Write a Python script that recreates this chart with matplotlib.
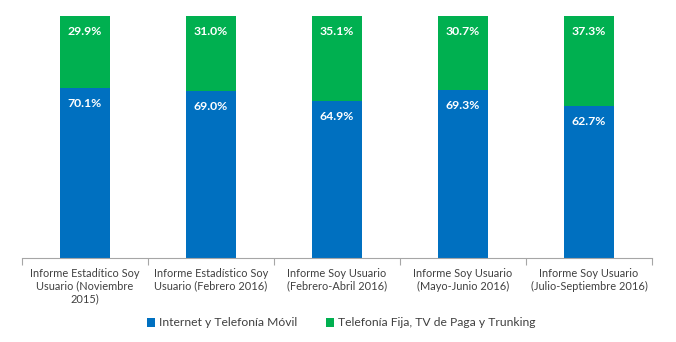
import matplotlib
matplotlib.use("Agg")
import matplotlib.pyplot as plt
import numpy as np

categories = [
    "Informe Estadítico Soy\nUsuario (Noviembre\n2015)",
    "Informe Estadístico Soy\nUsuario (Febrero 2016)",
    "Informe Soy Usuario\n(Febrero-Abril 2016)",
    "Informe Soy Usuario\n(Mayo-Junio 2016)",
    "Informe Soy Usuario\n(Julio-Septiembre 2016)",
]
movil = [70.1, 69.0, 64.9, 69.3, 62.7]
fija = [29.9, 31.0, 35.1, 30.7, 37.3]
series_names = ["Internet y Telefonía Móvil", "Telefonía Fija, TV de Paga y Trunking"]
blue = "#0070C0"
green = "#00B050"

plt.rcParams['font.family'] = ['Lato', 'DejaVu Sans']

fig = plt.figure(figsize=(6.76, 3.42), dpi=100)
ax = fig.add_axes([22/676, 1-258/342, 630/676, 242/342])

x = np.arange(len(categories))
w = 0.4
b1 = ax.bar(x, movil, w, color=blue, label=series_names[0])
b2 = ax.bar(x, fija, w, bottom=movil, color=green, label=series_names[1])

for xi, m, f in zip(x, movil, fija):
    ax.text(xi, m - 6.3, f"{m:.1f}%", ha='center', va='center', color='white',
            fontsize=8.8, fontweight='bold')
    ax.text(xi, 100 - 6.3, f"{f:.1f}%", ha='center', va='center', color='white',
            fontsize=8.8, fontweight='bold')

ax.set_xlim(-0.5, len(categories) - 0.5)
ax.set_ylim(0, 100)
ax.set_yticks([])
for s in ['top', 'right', 'left']:
    ax.spines[s].set_visible(False)
ax.spines['bottom'].set_color('#A6A6A6')
ax.set_xticks(np.arange(-0.5, len(categories)), minor=False)
ax.set_xticklabels([])
ax.tick_params(axis='x', which='major', length=5, color='#A6A6A6', direction='out')
ax.set_xticks(x, minor=True)
ax.set_xticklabels(categories, minor=True, fontsize=7.9, color='#404040', linespacing=1.2)
ax.tick_params(axis='x', which='minor', length=0, pad=7)

fig.legend(handles=[b1, b2], loc='center', bbox_to_anchor=(341/676, 1-323/342),
           ncol=2, frameon=False, fontsize=8.7, handlelength=0.7, handleheight=0.7,
           columnspacing=2.4, handletextpad=0.3, labelcolor='#404040')

fig.savefig("out.png", dpi=100)
